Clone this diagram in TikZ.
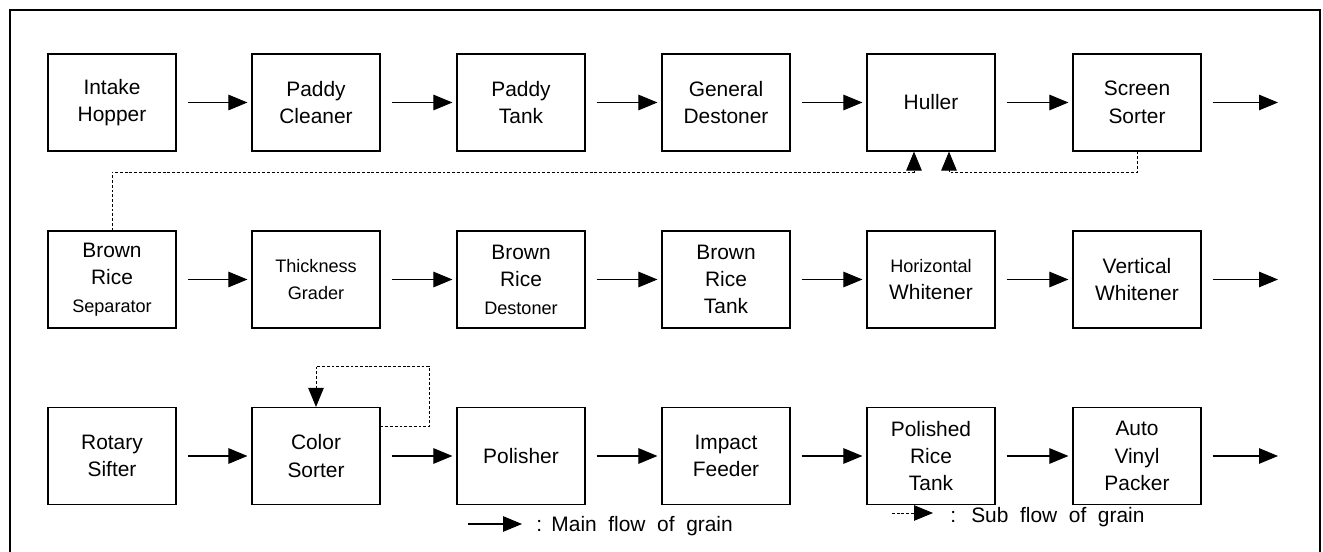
\documentclass[tikz,border=0pt]{standalone}
\usepackage{fontspec}
\setmainfont{Liberation Sans}
\usetikzlibrary{arrows.meta}
\newcommand{\boxfont}{\fontsize{11.9}{15.6}\selectfont}
\newcommand{\smallboxfont}{\fontsize{10.3}{15.6}\selectfont}

\begin{document}
\begin{tikzpicture}[font=\boxfont, every node/.style={align=center},
  machine/.style={draw, line width=0.65pt, minimum width=2.56cm, minimum height=1.94cm, inner sep=0pt},
  flow/.style={-{Triangle[length=0.38cm, width=0.31cm]}, line width=0.6pt, shorten <=0.22cm, shorten >=0.08cm},
  subflow/.style={-{Triangle[length=0.38cm, width=0.31cm]}, line width=0.5pt, dash pattern=on 1.6pt off 1.1pt}]
\useasboundingbox (0,0) rectangle (26.46,-11.04);
\draw[line width=0.6pt] (0.2,-11.04) -- (0.2,-0.2) -- (26.4,-0.2) -- (26.4,-11.04);
% first row
\node[machine] (intake) at (2.24,-2.05) {Intake\\Hopper};
\node[machine] (pcleaner) at (6.32,-2.05) {Paddy\\Cleaner};
\node[machine] (ptank) at (10.42,-2.05) {Paddy\\Tank};
\node[machine] (gdestoner) at (14.52,-2.05) {General\\Destoner};
\node[machine] (huller) at (18.62,-2.05) {Huller};
\node[machine] (ssorter) at (22.74,-2.05) {Screen\\Sorter};
% second row
\node[machine] (brsep) at (2.24,-5.59) {Brown\\Rice\\{\smallboxfont Separator}};
\node[machine] (tgrader) at (6.32,-5.59) {\smallboxfont Thickness\\\smallboxfont Grader};
\node[machine] (brdestoner) at (10.42,-5.59) {Brown\\Rice\\{\smallboxfont Destoner}};
\node[machine] (brtank) at (14.52,-5.59) {Brown\\Rice\\Tank};
\node[machine] (hwhitener) at (18.62,-5.59) {{\smallboxfont Horizontal}\\Whitener};
\node[machine] (vwhitener) at (22.74,-5.59) {Vertical\\Whitener};
% third row
\node[machine] (rsifter) at (2.24,-9.12) {Rotary\\Sifter};
\node[machine] (csorter) at (6.32,-9.12) {Color\\Sorter};
\node[machine] (polisher) at (10.42,-9.12) {Polisher};
\node[machine] (ifeeder) at (14.52,-9.12) {Impact\\Feeder};
\node[machine] (prtank) at (18.62,-9.12) {Polished\\Rice\\Tank};
\node[machine] (packer) at (22.74,-9.12) {Auto\\Vinyl\\Packer};
\coordinate (out1) at (25.64,-2.05);
\coordinate (out2) at (25.64,-5.59);
\coordinate (out3) at (25.64,-9.12);
% main flow
\draw[flow] (intake) -- (pcleaner);
\draw[flow] (pcleaner) -- (ptank);
\draw[flow] (ptank) -- (gdestoner);
\draw[flow] (gdestoner) -- (huller);
\draw[flow] (huller) -- (ssorter);
\draw[flow] (ssorter) -- (out1);
\draw[flow] (brsep) -- (tgrader);
\draw[flow] (tgrader) -- (brdestoner);
\draw[flow] (brdestoner) -- (brtank);
\draw[flow] (brtank) -- (hwhitener);
\draw[flow] (hwhitener) -- (vwhitener);
\draw[flow] (vwhitener) -- (out2);
\draw[flow] (rsifter) -- (csorter);
\draw[flow] (csorter) -- (polisher);
\draw[flow] (polisher) -- (ifeeder);
\draw[flow] (ifeeder) -- (prtank);
\draw[flow] (prtank) -- (packer);
\draw[flow] (packer) -- (out3);
% sub flow
\coordinate (back1) at (18.28,-3.44);
\coordinate (back2) at (18.98,-3.44);
\coordinate (loop) at (8.58,-7.32);
\draw[subflow] (brsep.north) |- (back1) -- (back1 |- huller.south);
\draw[subflow] (ssorter.south) |- (back2) -- (back2 |- huller.south);
\draw[subflow] ([yshift=-0.4cm]csorter.north east) -| (loop) -| (csorter.north);
% legend
\coordinate (lm1) at (9.36,-10.48);
\coordinate (lm2) at (10.44,-10.48);
\coordinate (ls1) at (17.84,-10.26);
\coordinate (ls2) at (18.66,-10.26);
\draw[flow, shorten <=0pt, shorten >=0pt] (lm1) -- (lm2);
\draw[subflow] (ls1) -- (ls2);
\node[anchor=base west, inner sep=0pt] (legmain) at (10.72,-10.64) {:\ \,Main\ \ flow\ \ of\ \ grain};
\node[anchor=base west, inner sep=0pt] (legsub) at (19.0,-10.46) {:\ \ \,Sub\ \ flow\ \ of\ \ grain};
\end{tikzpicture}
\end{document}
